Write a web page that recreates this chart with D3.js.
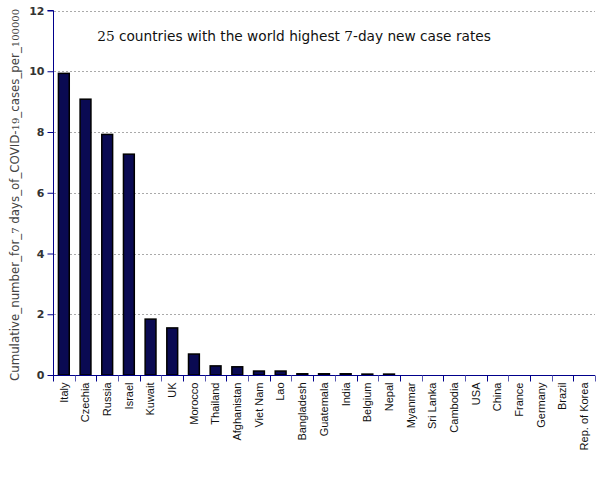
<!DOCTYPE html>
<html><head><meta charset="utf-8">
<script src="https://cdn.jsdelivr.net/npm/d3@7"></script>
<style>body{margin:0;background:#fff}</style>
</head><body>
<svg id="c" width="605" height="480"></svg>
<script>
const countries = ["Italy","Czechia","Russia","Israel","Kuwait","UK","Morocco","Thailand","Afghanistan","Viet Nam","Lao","Bangladesh","Guatemala","India","Belgium","Nepal","Myanmar","Sri Lanka","Cambodia","USA","China","France","Germany","Brazil","Rep. of Korea"];
const values = [9.93,9.08,7.92,7.27,1.84,1.55,0.69,0.30,0.27,0.13,0.13,0.04,0.04,0.04,0.03,0.03,0,0,0,0,0,0,0,0,0];
const yTicks = [0,2,4,6,8,10,12];

(function(){
const svg = d3.select("#c");
const mLeft = 53, mRight = 595, mTop = 10.5, mBottom = 375;
const x = d3.scaleBand().domain(countries).range([mLeft, mRight]).paddingInner(0.5).paddingOuter(0.25);
const y = d3.scaleLinear().domain([0,12]).range([mBottom, mTop]);

svg.append("g").selectAll("line").data(yTicks.filter(d=>d>0)).join("line")
  .attr("x1", mLeft+1).attr("x2", mRight).attr("y1", d=>Math.round(y(d))+0.5).attr("y2", d=>Math.round(y(d))+0.5)
  .attr("stroke","#aaa").attr("stroke-dasharray","2,2");

svg.append("g").selectAll("rect").data(countries).join("rect")
  .attr("x", d=>x(d)).attr("width", x.bandwidth())
  .attr("y", (d,i)=>y(values[i])).attr("height", (d,i)=>mBottom - y(values[i]))
  .attr("fill","#0a0a52").attr("stroke","#000").attr("stroke-width",1.5);

const ya = svg.append("g").attr("transform",`translate(${mLeft+0.5},0)`)
  .call(d3.axisLeft(y).tickValues(yTicks).tickSize(6).tickPadding(3).tickFormat(d3.format("d")));
ya.select(".domain").attr("stroke","#00008b").attr("d",`M-6,${y(12)}H0V${mBottom}`);
ya.selectAll(".tick line").attr("stroke","#00008b");
ya.selectAll(".tick text").attr("font-family","DejaVu Sans, sans-serif").attr("font-size",11).attr("font-weight","bold").attr("fill","#333");

const xa = svg.append("g").attr("transform",`translate(0,${mBottom+0.5})`)
  .call(d3.axisBottom(x).tickSize(0).tickPadding(0));
xa.select(".domain").attr("stroke","#00008b").attr("d",`M${mLeft},0H${mRight}`);
xa.selectAll(".tick text").attr("font-family","Liberation Sans, Arial, sans-serif").attr("font-size",11).attr("fill","#111")
  .attr("transform","rotate(-90)").attr("text-anchor","end").attr("x",-7).attr("y",0).attr("dy","0.35em");
const step = x.step();
xa.append("g").selectAll("line").data(d3.range(countries.length+1)).join("line")
  .attr("x1", i=>Math.round(mLeft + i*step)+0.5).attr("x2", i=>Math.round(mLeft + i*step)+0.5)
  .attr("y1",0).attr("y2",6).attr("stroke",(d,i)=>i%2? "#5a5ab0":"#00008b");

const title = svg.append("text").attr("x",294).attr("y",41).attr("text-anchor","middle")
  .attr("font-family","DejaVu Sans, sans-serif").attr("font-size",13.7).attr("fill","#111");
title.append("tspan").attr("font-family","DejaVu Serif, serif").text("25");
title.append("tspan").text(" countries with the world highest ");
title.append("tspan").attr("font-family","DejaVu Serif, serif").text("7");
title.append("tspan").text("-day new case rates");

const yl = svg.append("text").attr("transform","translate(19,195) rotate(-90)").attr("text-anchor","middle")
  .attr("font-family","DejaVu Sans, sans-serif").attr("font-size",11.8).attr("fill","#444");
[["Cumulative_number_for_",0],["7",1],[" days_of_COVID-",0],["19",1],["_cases_per_",0],["100000",1]].forEach(([t,s])=>{
  const ts = yl.append("tspan").text(t);
  if(s) ts.attr("font-family","DejaVu Serif, serif").attr("font-size",10);
});
})();
</script>
</body></html>
